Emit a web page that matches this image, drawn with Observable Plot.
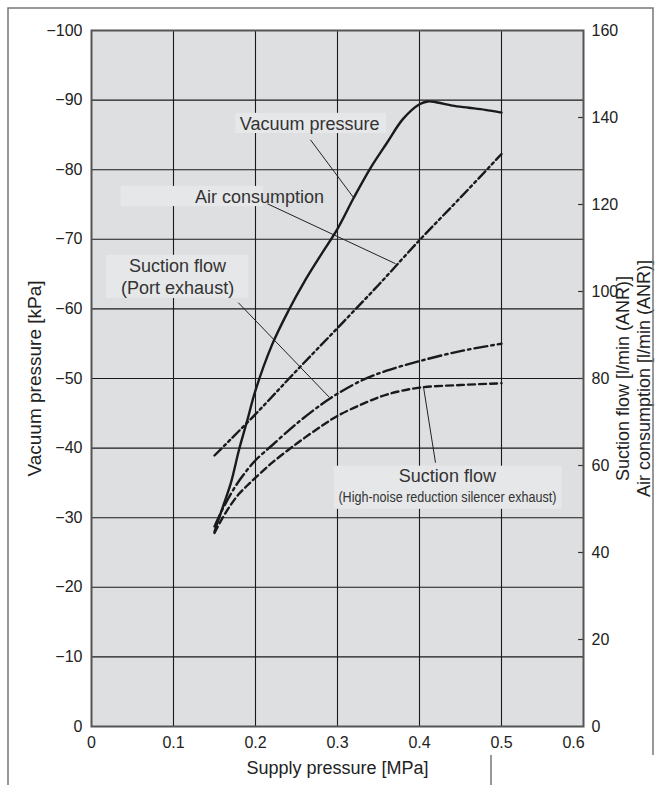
<!DOCTYPE html>
<html>
<head>
<meta charset="utf-8">
<script src="https://cdn.jsdelivr.net/npm/d3@7"></script>
<script src="https://cdn.jsdelivr.net/npm/@observablehq/plot@0.6"></script>
<style>
  html, body { margin: 0; padding: 0; background: #fff; }
</style>
</head>
<body>
<div id="chart"></div>
<script>
// ---- Data ----
// Supply pressure [MPa] vs. vacuum pressure [kPa]
const vacuumP   = [0.15, 0.16, 0.17, 0.18, 0.19, 0.20, 0.22, 0.24, 0.26, 0.28, 0.30, 0.32, 0.34, 0.36, 0.38, 0.40, 0.41, 0.42, 0.44, 0.46, 0.48, 0.50];
const vacuumKPa = [-28, -31.5, -35, -39.8, -44, -48.3, -54.8, -59.7, -64, -67.8, -71.5, -76, -80.2, -83.8, -87.3, -89.4, -89.8, -89.7, -89.2, -88.9, -88.6, -88.2];

// Air consumption [l/min (ANR)]
const airP    = [0.15, 0.20, 0.25, 0.30, 0.35, 0.40, 0.45, 0.50];
const airFlow = [62.3, 71.8, 81.8, 91.6, 101.5, 111.8, 121.6, 131.6];

// Suction flow, port exhaust [l/min (ANR)]
const portP    = [0.15, 0.16, 0.17, 0.18, 0.19, 0.20, 0.22, 0.25, 0.28, 0.30, 0.33, 0.36, 0.40, 0.45, 0.50];
const portFlow = [46, 50, 53.5, 56.5, 59, 61.2, 64.6, 69.6, 74, 76.5, 79.6, 81.8, 84, 86.3, 88];

// Suction flow, high-noise reduction silencer exhaust [l/min (ANR)]
const silP    = [0.15, 0.16, 0.17, 0.18, 0.19, 0.20, 0.22, 0.25, 0.28, 0.30, 0.33, 0.36, 0.40, 0.45, 0.50];
const silFlow = [44.5, 48, 51, 53.5, 55.4, 57.2, 60.6, 65, 69, 71.4, 74.1, 76.3, 77.9, 78.5, 78.9];

// Tick values
const xTicks     = [0, 0.1, 0.2, 0.3, 0.4, 0.5];
const xLastTick  = [0.6];
const xGrid      = [0.1, 0.2, 0.3, 0.4, 0.5];
const yTicks     = [0, -10, -20, -30, -40, -50, -60, -70, -80, -90, -100];
const yGrid      = [-10, -20, -30, -40, -50, -60, -70, -80, -90];
const flowTicks  = [0, 20, 40, 60, 80, 100, 120, 140, 160];
const flowInner  = [20, 40, 60, 80, 100, 120, 140];

// Annotation labels (data coordinates: MPa, kPa)
const labelTexts = ["Vacuum pressure", "Air consumption", "Suction flow", "(Port exhaust)", "Suction flow", "(High-noise reduction silencer exhaust)"];
const labelX     = [0.266, 0.205, 0.105, 0.105, 0.434, 0.434];
const labelY     = [-86.6, -76.1, -66.2, -63.0, -35.9, -32.9];
const labelAnchor = ["middle", "end", "middle", "middle", "middle", "middle"];
const labelSize  = [18, 18, 18, 18, 18, 15.5];

const boxX1 = [0.176, 0.036, 0.018, 0.296];
const boxX2 = [0.360, 0.210, 0.192, 0.574];
const boxY1 = [-88.1, -77.6, -67.7, -37.4];
const boxY2 = [-85.2, -74.7, -61.5, -31.2];

const leadX1 = [0.267, 0.2146, 0.179, 0.4195];
const leadY1 = [-84.3, -75.1, -60.9, -37.9];
const leadX2 = [0.3195, 0.3707, 0.290, 0.405];
const leadY2 = [-76.0, -66.5, -47.3, -48.7];

// ---- Build tables ----
const flowToKPa = v => -v * 100 / 160;
const vacuum = vacuumP.map((p, i) => ({p, y: vacuumKPa[i]}));
const air    = airP.map((p, i) => ({p, y: flowToKPa(airFlow[i])}));
const port   = portP.map((p, i) => ({p, y: flowToKPa(portFlow[i])}));
const sil    = silP.map((p, i) => ({p, y: flowToKPa(silFlow[i])}));
const labels = labelTexts.map((t, i) => ({t, x: labelX[i], y: labelY[i], a: labelAnchor[i], s: labelSize[i]}));
const boxes  = boxX1.map((x1, i) => ({x1, x2: boxX2[i], y1: boxY1[i], y2: boxY2[i]}));
const leaders = leadX1.map((x1, i) => ({x1, y1: leadY1[i], x2: leadX2[i], y2: leadY2[i]}));

const font = "'Liberation Sans', Arial, Helvetica, sans-serif";
const lineStyle = {x: "p", y: "y", stroke: "#1a1a1a", strokeWidth: 2.4, curve: "catmull-rom"};

const chart = Plot.plot({
  width: 661,
  height: 785,
  marginLeft: 91,
  marginRight: 78,
  marginTop: 30,
  marginBottom: 59,
  x: {domain: [0, 0.6]},
  y: {domain: [0, -100]},
  style: {fontFamily: font, fontSize: "16px", color: "#222", background: "#fff"},
  marks: [
    Plot.frame({fill: "#dedfe1", stroke: null}),
    Plot.gridX({ticks: xGrid, stroke: "#1a1a1a", strokeOpacity: 1, strokeWidth: 1.1}),
    Plot.gridY({ticks: yGrid, stroke: "#1a1a1a", strokeOpacity: 1, strokeWidth: 1.1}),
    Plot.rect(boxes, {x1: "x1", x2: "x2", y1: "y1", y2: "y2", fill: "#e6e7e8"}),
    Plot.link(leaders, {x1: "x1", y1: "y1", x2: "x2", y2: "y2", stroke: "#222", strokeWidth: 1}),
    Plot.line(vacuum, {...lineStyle}),
    Plot.line(air, {...lineStyle, strokeDasharray: "10,3.5,2.5,3.5,2.5,3.5"}),
    Plot.line(port, {...lineStyle, strokeDasharray: "13,4,2.5,4"}),
    Plot.line(sil, {...lineStyle, strokeDasharray: "7,4"}),
    Plot.text(labels, {x: "x", y: "y", text: "t", textAnchor: "a", fontSize: "s", fill: "#333",
      className: "annot"}),
    Plot.ruleY(flowInner.map(flowToKPa), {x1: 0.594, x2: 0.6, stroke: "#333", strokeWidth: 1.2}),
    Plot.frame({stroke: "#555", strokeWidth: 2}),
    Plot.axisX({ticks: xTicks, tickSize: 0, tickPadding: 10, label: null, fontSize: 16, tickFormat: d => String(d)}),
    Plot.axisX({ticks: xLastTick, tickSize: 0, tickPadding: 10, label: null, fontSize: 16, tickFormat: d => String(d), dx: -10}),
    Plot.axisY({ticks: yTicks, tickSize: 0, tickPadding: 9, label: null, fontSize: 16}),
    Plot.axisY({anchor: "right", ticks: flowTicks.map(flowToKPa), tickSize: 0, tickPadding: 8, label: null, fontSize: 16,
      tickFormat: d => String(Math.abs(Math.round(-d * 160 / 100)))}),
    Plot.text(["Vacuum pressure [kPa]"], {frameAnchor: "left", textAnchor: "middle", dx: -57, rotate: -90, fontSize: 19, fill: "#222"}),
    Plot.text(["Suction flow [l/min (ANR)]"], {frameAnchor: "right", textAnchor: "middle", dx: 40, rotate: -90, fontSize: 18, fill: "#222"}),
    Plot.text(["Air consumption [l/min (ANR)]"], {frameAnchor: "right", textAnchor: "middle", dx: 61, rotate: -90, fontSize: 18, fill: "#222"}),
    Plot.text(["Supply pressure [MPa]"], {frameAnchor: "bottom", textAnchor: "middle", dy: 47, fontSize: 18, fill: "#222"})
  ]
});

// condense the long silencer caption to its measured width
d3.select(chart).selectAll(".annot text")
  .filter(function() { return this.textContent.startsWith("(High-noise"); })
  .attr("textLength", 218).attr("lengthAdjust", "spacingAndGlyphs");

// outer catalogue frame
d3.select(chart).append("path")
  .attr("d", "M8,785V8H653V755M491,755V785")
  .attr("fill", "none").attr("stroke", "#777").attr("stroke-width", 1.5);

document.getElementById("chart").appendChild(chart);
</script>
</body>
</html>
